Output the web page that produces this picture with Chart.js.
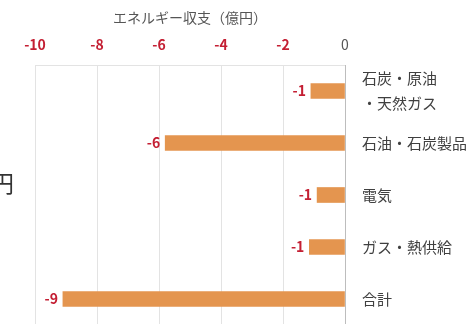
<!DOCTYPE html>
<html lang="ja">
<head>
<meta charset="UTF-8">
<title>エネルギー収支</title>
<style>
  html, body { margin: 0; padding: 0; background: #ffffff; overflow: hidden; }
  #chart { display: block; }
</style>
</head>
<body>
<canvas id="chart" width="466" height="326"></canvas>
<script src="https://cdn.jsdelivr.net/npm/chart.js"></script>
<script>
  // data (億円)
  const categories = [['石炭・原油', '・天然ガス'], '石油・石炭製品', '電気', 'ガス・熱供給', '合計'];
  const balance = [-1.1, -5.8, -0.9, -1.15, -9.1];
  const axisTitle = 'エネルギー収支（億円）';
  const sideNote = '円';

  const JP = '"Noto Sans CJK JP", "Noto Sans", sans-serif';
  const RED = '#c41f33';
  const BAR = '#e4954f';

  // rounded value shown at the end of each bar
  const barLabels = {
    id: 'barLabels',
    afterDatasetsDraw(chart) {
      const ctx = chart.ctx;
      const meta = chart.getDatasetMeta(0);
      ctx.save();
      ctx.font = 'bold 14px ' + JP;
      ctx.fillStyle = RED;
      ctx.textAlign = 'right';
      ctx.textBaseline = 'middle';
      meta.data.forEach((bar, i) => {
        ctx.fillText(String(Math.round(balance[i])), bar.x - 5, bar.y);
      });
      ctx.restore();
    }
  };

  // clipped character from the neighbouring page on the left edge
  const edgeText = {
    id: 'edgeText',
    afterDraw(chart) {
      const ctx = chart.ctx;
      ctx.save();
      ctx.font = '23px ' + JP;
      ctx.fillStyle = '#333333';
      ctx.textAlign = 'right';
      ctx.textBaseline = 'middle';
      ctx.fillText(sideNote, 14, 183);
      ctx.restore();
    }
  };

  new Chart(document.getElementById('chart'), {
    type: 'bar',
    data: {
      labels: categories,
      datasets: [{
        data: balance,
        backgroundColor: BAR,
        borderWidth: 0,
        barThickness: 15
      }]
    },
    options: {
      indexAxis: 'y',
      responsive: false,
      animation: false,
      layout: { padding: { left: 35, right: 0, top: 0, bottom: 1 } },
      plugins: { legend: { display: false }, tooltip: { enabled: false } },
      scales: {
        x: {
          position: 'top',
          min: -10,
          max: 0,
          afterFit(scale) {
            scale.height = 65;
            scale.paddingLeft = 0;
            scale.paddingRight = 0;
          },
          title: {
            display: true,
            text: axisTitle,
            color: '#555555',
            font: { family: JP, size: 14 },
            padding: { top: 9, bottom: 0 }
          },
          ticks: {
            stepSize: 2,
            padding: 12,
            color: c => c.tick && c.tick.value < 0 ? RED : '#555555',
            font: c => ({
              family: JP,
              size: 14,
              weight: c.tick && c.tick.value < 0 ? 'bold' : 'normal'
            })
          },
          grid: { color: '#e3e3e3', drawTicks: false },
          border: { display: true, color: '#e3e3e3' }
        },
        y: {
          position: 'right',
          afterFit(scale) {
            scale.width = 121;
            scale.paddingTop = 0;
            scale.paddingBottom = 0;
          },
          ticks: {
            autoSkip: false,
            padding: 17,
            color: '#404040',
            font: { family: JP, size: 15, lineHeight: 1.7 }
          },
          grid: { display: false, drawTicks: false },
          border: { display: true, color: '#bdbdbd' }
        }
      }
    },
    plugins: [barLabels, edgeText]
  });
</script>
</body>
</html>
